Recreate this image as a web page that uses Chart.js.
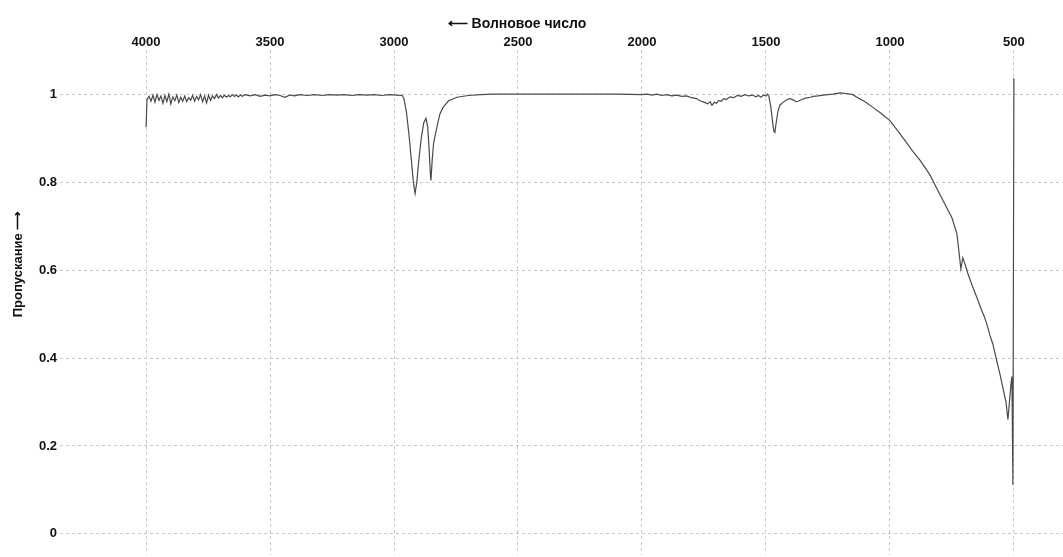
<!DOCTYPE html>
<html>
<head>
<meta charset="utf-8">
<script src="https://cdn.jsdelivr.net/npm/chart.js@4"></script>
<style>
  html, body { margin: 0; padding: 0; background: #ffffff; }
  #wrap { width: 1063px; height: 557px; position: relative; }
</style>
</head>
<body>
<div id="wrap"><canvas id="ir"></canvas></div>
<script>
// IR transmission spectrum: wavenumber (cm^-1) and transmittance
const wavenumbers = [
  4000, 3996, 3988, 3980, 3972, 3964, 3956, 3948, 3940, 3932, 3924, 3916, 3908, 3900,
  3892, 3884, 3876, 3868, 3860, 3852, 3844, 3836, 3828, 3820, 3812, 3804, 3796, 3788,
  3780, 3772, 3764, 3756, 3748, 3740, 3732, 3724, 3716, 3708, 3700, 3692, 3684, 3676,
  3668, 3660, 3652, 3644, 3636, 3628, 3620, 3612, 3600,
  3580, 3560, 3540, 3520, 3500, 3480, 3460, 3440, 3420, 3400, 3380, 3350, 3320, 3290,
  3260, 3230, 3200, 3170, 3140, 3110, 3080, 3050, 3020, 2990, 2975, 2968,
  2960, 2950, 2940, 2930, 2922, 2915, 2908, 2900, 2890, 2880, 2871, 2864, 2858, 2853,
  2851, 2846, 2840, 2827, 2815, 2802, 2780, 2746, 2700, 2650, 2600, 2500, 2400, 2300,
  2200, 2100, 2000, 1980, 1960, 1940, 1920, 1900, 1880, 1860, 1840, 1820, 1800, 1780,
  1766, 1750, 1735, 1725, 1718, 1714, 1708, 1700, 1690, 1680, 1670, 1660, 1645, 1630,
  1615, 1600, 1585, 1570, 1555, 1540, 1530, 1520, 1510, 1500, 1494, 1488, 1480, 1474,
  1468, 1464, 1460, 1452, 1444, 1430, 1415, 1403, 1390, 1378, 1371, 1355, 1340, 1320,
  1310, 1290, 1270, 1250, 1230, 1200, 1170, 1149, 1133, 1100, 1069, 1035, 1000, 966,
  933, 905, 879, 839, 815, 786, 750, 730, 722, 714, 706, 695, 685, 667,
  649, 629, 620, 609, 597, 585, 569, 556, 544, 536, 532, 528, 526, 524,
  518, 512, 508, 504, 500
];

const transmittance = [
  0.925, 0.988, 0.995, 0.984, 0.998, 0.982, 0.999, 0.986, 0.996, 0.979, 0.997, 0.983, 1.000, 0.978,
  0.994, 0.985, 0.998, 0.981, 0.993, 0.984, 0.996, 0.983, 0.992, 0.986, 0.997, 0.984, 0.995, 0.987,
  0.999, 0.983, 0.996, 0.980, 0.998, 0.986, 0.996, 0.990, 0.999, 0.991, 0.997, 0.992, 0.998, 0.993,
  0.997, 0.994, 0.999, 0.995, 0.998, 0.994, 0.998, 0.995, 0.999,
  0.996, 0.999, 0.995, 0.998, 0.996, 0.999, 0.997, 0.993, 0.998, 0.996, 0.999, 0.997, 0.999, 0.997,
  0.999, 0.998, 0.999, 0.997, 0.999, 0.998, 0.999, 0.997, 0.999, 0.998, 0.997, 0.998,
  0.990, 0.960, 0.910, 0.850, 0.800, 0.774, 0.800, 0.850, 0.900, 0.935, 0.945, 0.925, 0.870, 0.815,
  0.804, 0.850, 0.890, 0.925, 0.955, 0.970, 0.985, 0.993, 0.997, 0.999, 1.000, 1.000, 1.000, 1.000,
  1.000, 1.000, 0.999, 1.000, 0.998, 1.000, 0.997, 0.999, 0.996, 0.998, 0.995, 0.996, 0.992, 0.990,
  0.985, 0.982, 0.978, 0.983, 0.975, 0.977, 0.982, 0.979, 0.986, 0.984, 0.990, 0.988, 0.994, 0.992,
  0.997, 0.995, 0.999, 0.996, 0.998, 0.994, 0.997, 0.993, 0.998, 0.996, 1.000, 0.995, 0.970, 0.940,
  0.915, 0.913, 0.930, 0.960, 0.975, 0.982, 0.988, 0.990, 0.987, 0.983, 0.984, 0.988, 0.991, 0.993,
  0.995, 0.996, 0.998, 0.999, 1.000, 1.003, 1.001, 0.999, 0.993, 0.983, 0.970, 0.956, 0.940, 0.915,
  0.890, 0.868, 0.850, 0.817, 0.790, 0.758, 0.719, 0.683, 0.644, 0.603, 0.628, 0.610, 0.591, 0.563,
  0.537, 0.507, 0.495, 0.477, 0.452, 0.432, 0.393, 0.363, 0.331, 0.310, 0.301, 0.280, 0.270, 0.260,
  0.300, 0.340, 0.358, 0.112, 1.036
];

const xTicks = [4000, 3500, 3000, 2500, 2000, 1500, 1000, 500];
const yTicks = [0, 0.2, 0.4, 0.6, 0.8, 1];

const xTitle = '\u27F5 Волновое число';
const yTitle = 'Пропускание \u27F6';

const FONT = "'Liberation Sans', Arial, sans-serif";

// axis titles placed beside the plot
const axisTitles = {
  id: 'axisTitles',
  afterDraw(chart) {
    const ctx = chart.ctx;
    ctx.save();
    ctx.fillStyle = '#111';
    ctx.textAlign = 'center';
    ctx.textBaseline = 'middle';
    ctx.font = 'bold 14px ' + FONT;
    ctx.fillText(xTitle, 517, 24);
    ctx.translate(18, 264);
    ctx.rotate(-Math.PI / 2);
    ctx.font = 'bold 13px ' + FONT;
    ctx.fillText(yTitle, 0, 0);
    ctx.restore();
  }
};

new Chart(document.getElementById('ir'), {
  type: 'line',
  data: {
    datasets: [{
      data: wavenumbers.map((w, i) => ({ x: w, y: transmittance[i] })),
      borderColor: '#4a4a4a',
      borderWidth: 1.2,
      pointRadius: 0,
      tension: 0,
      fill: false
    }]
  },
  options: {
    responsive: true,
    maintainAspectRatio: false,
    animation: false,
    layout: { padding: { top: 0, right: 0, bottom: 2, left: 0 } },
    plugins: { legend: { display: false }, tooltip: { enabled: false } },
    scales: {
      x: {
        type: 'linear',
        position: 'top',
        reverse: true,
        min: 302,
        max: 4347,
        afterBuildTicks(axis) { axis.ticks = xTicks.map(v => ({ value: v })); },
        afterFit(axis) { axis.height = 50; axis.paddingLeft = 0; axis.paddingRight = 0; },
        grid: { color: '#c8c8c8', drawTicks: false, lineWidth: 1 },
        border: { display: false, dash: [3, 3] },
        ticks: {
          color: '#111',
          padding: 0,
          maxRotation: 0,
          font: { family: FONT, size: 13, weight: 'bold' },
          callback: v => String(v)
        }
      },
      y: {
        type: 'linear',
        min: -0.048,
        max: 1.1005,
        afterBuildTicks(axis) { axis.ticks = yTicks.map(v => ({ value: v })); },
        afterFit(axis) { axis.width = 60; axis.paddingTop = 0; axis.paddingBottom = 0; },
        grid: { color: '#c8c8c8', drawTicks: false, lineWidth: 1 },
        border: { display: false, dash: [3, 3] },
        ticks: {
          color: '#111',
          padding: 3,
          font: { family: FONT, size: 13, weight: 'bold' },
          callback: v => String(Math.round(v * 10) / 10)
        }
      }
    }
  },
  plugins: [axisTitles]
});
</script>
</body>
</html>
